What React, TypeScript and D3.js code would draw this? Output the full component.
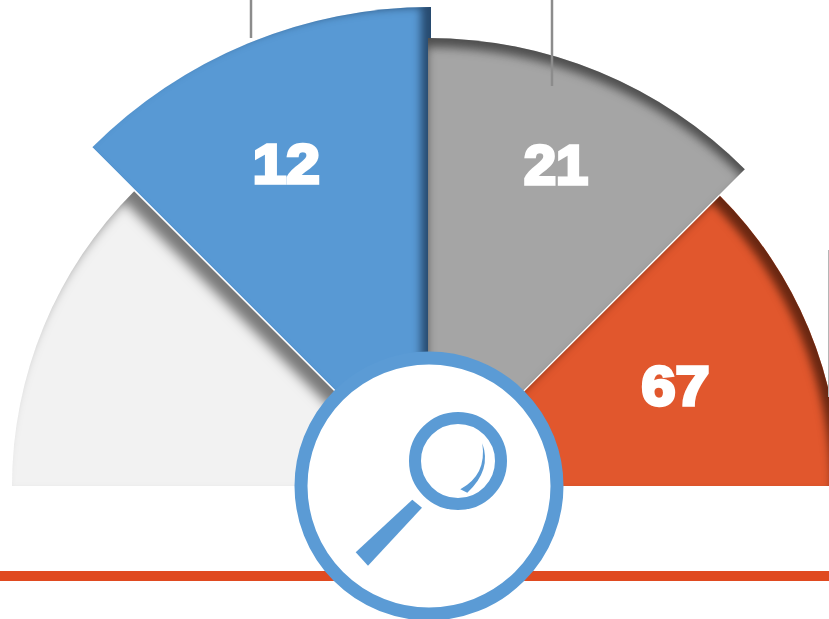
import React from "react";
import * as d3 from "d3";

const sliceNames = ["rest", "low", "mid", "high"];
const sliceLabels = ["", "12", "21", "67"];
const sliceWeights = [1, 1, 1, 1];
const sliceColors = ["#F2F2F2", "#5899D4", "#A5A5A5", "#E1572D"];
const sliceRadii = [417, 479, 448, 411];
const sliceCenterX = [429, 431, 428, 429];
const labelAngles = [0, -24.2, 21.7, 68];
const labelRadii = [0, 353, 346, 266];
const labelWidths = [0, 67, 64, 68];
const drawOrder = [0, 3, 1, 2];

const W = 829;
const H = 619;
const CY = 486;
const BLUE = "#5B9BD5";

function InnerShadow({ id, dx, dy, blur, color, opacity }: { id: string; dx: number; dy: number; blur: number; color: string; opacity: number }) {
  return (
    <filter id={id} x="-10%" y="-10%" width="120%" height="120%" colorInterpolationFilters="sRGB">
      <feFlood floodColor="#000" result="black" />
      <feComposite in="black" in2="SourceAlpha" operator="out" result="inverse" />
      <feOffset in="inverse" dx={dx} dy={dy} result="off" />
      <feGaussianBlur in="off" stdDeviation={blur} result="blurred" />
      <feFlood floodColor={color} floodOpacity={opacity} result="c" />
      <feComposite in="c" in2="blurred" operator="in" result="shadow" />
      <feComposite in="shadow" in2="SourceAlpha" operator="in" result="inner" />
      <feMerge>
        <feMergeNode in="SourceGraphic" />
        <feMergeNode in="inner" />
      </feMerge>
    </filter>
  );
}

export default function App() {
  const pie = d3
    .pie<number>()
    .sort(null)
    .value((d) => d)
    .startAngle(-Math.PI / 2)
    .endAngle(Math.PI / 2);
  const arcs = pie(sliceWeights);
  const radius = d3.scaleOrdinal<string, number>().domain(sliceNames).range(sliceRadii);
  const arcGen = d3.arc<d3.PieArcDatum<number>>().innerRadius(0);

  const edge = (i: number, angle: number) => {
    const r = radius(sliceNames[i]);
    const [x, y] = d3.pointRadial(angle, r);
    return { x1: sliceCenterX[i], y1: CY, x2: sliceCenterX[i] + x, y2: CY + y };
  };

  return (
    <svg width={W} height={H} viewBox={`0 0 ${W} ${H}`} style={{ position: "absolute", left: 0, top: 0, display: "block", background: "#fff" }}>
      <defs>
        <InnerShadow id="s0" dx={-10} dy={10} blur={6} color="#000" opacity={0.5} />
        <InnerShadow id="s1" dx={-10} dy={0} blur={4.5} color="#16304d" opacity={0.75} />
        <InnerShadow id="s2" dx={-1} dy={9} blur={5} color="#1a1a1a" opacity={0.62} />
        <InnerShadow id="s3" dx={-8} dy={7} blur={4.5} color="#4a1a0a" opacity={0.8} />
      </defs>

      <rect x={0} y={571} width={W} height={10} fill="#E04A20" />
      <line x1={251} x2={251} y1={0} y2={38} stroke="#8C8C8C" strokeWidth={2.5} />

      {drawOrder.map((i) => (
        <path
          key={sliceNames[i]}
          transform={`translate(${sliceCenterX[i]},${CY})`}
          d={arcGen({ ...arcs[i], outerRadius: radius(sliceNames[i]) } as any) ?? ""}
          fill={sliceColors[i]}
          filter={`url(#s${i})`}
        />
      ))}

      <line {...edge(1, -Math.PI / 4)} stroke="#fff" strokeWidth={1} strokeOpacity={0.5} />
      <line {...edge(3, Math.PI / 4)} stroke="#fff" strokeWidth={1.2} />
      <line x1={552} x2={552} y1={0} y2={86} stroke="#8C8C8C" strokeWidth={2.5} />
      <line x1={828.5} x2={828.5} y1={250} y2={397} stroke="#B5B5B5" strokeWidth={1} />

      {sliceLabels.map((label, i) => {
        if (!label) return null;
        const [x, y] = d3.pointRadial((labelAngles[i] * Math.PI) / 180, labelRadii[i]);
        return (
          <text
            key={label}
            x={sliceCenterX[i] + x}
            y={CY + y}
            textAnchor="middle"
            dominantBaseline="central"
            fontFamily="'Liberation Sans', Arial, sans-serif"
            fontWeight={700}
            fontSize={55}
            fill="#fff"
            stroke="#fff"
            strokeWidth={3.4}
            strokeLinejoin="miter"
            textLength={labelWidths[i]}
            lengthAdjust="spacingAndGlyphs"
          >
            {label}
          </text>
        );
      })}

      <circle cx={429} cy={CY} r={128} fill="#fff" stroke={BLUE} strokeWidth={13} />
      <circle cx={458} cy={461} r={43} fill="none" stroke={BLUE} strokeWidth={12} />
      <path d="M412.3,499.7 L422,507.7 L368,565.7 L355.7,552.3 Z" fill={BLUE} />
      <path d="M482.3,443.3 Q492,470 467.3,492.7 L460.3,489.3 Q487,475 482.3,443.3 Z" fill={BLUE} />
    </svg>
  );
}
